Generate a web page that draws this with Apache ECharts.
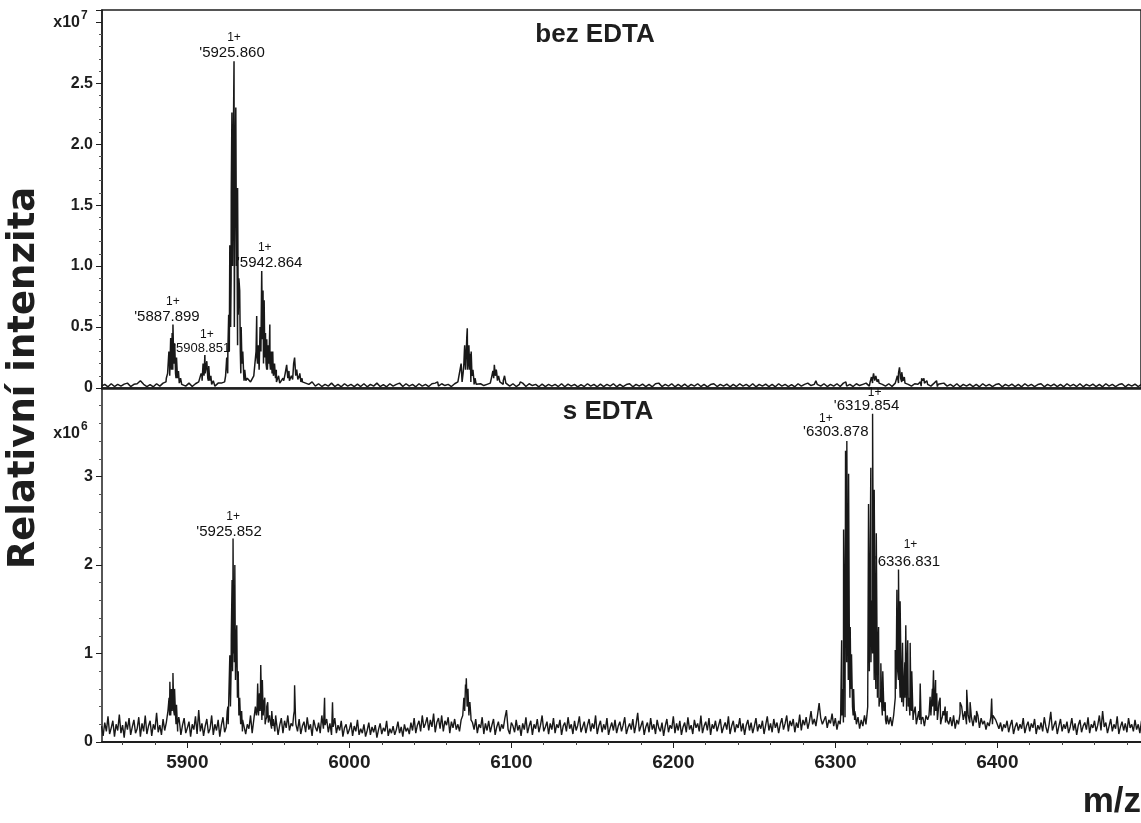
<!DOCTYPE html>
<html><head><meta charset="utf-8">
<script src="https://cdn.jsdelivr.net/npm/echarts@6/dist/echarts.min.js"></script>
<style>html,body{margin:0;padding:0;background:#fff}#c{width:1141px;height:823px}</style>
</head><body><div id="c"></div>
<script>
// ---------- axis ticks ----------
const xTicks = [5900, 6000, 6100, 6200, 6300, 6400];
const xMinorTicks = [5860,5880,5920,5940,5960,5980,6020,6040,6060,6080,6120,6140,6160,6180,6220,6240,6260,6280,6320,6340,6360,6380,6420,6440,6460,6480];
const xMin = 5847.3, xMax = 6488.7;

// ---------- top spectrum "bez EDTA" (intensity x10^7) ----------
const topBaseStart = 5847, topBaseStep = 2;   // baseline sampled every 2 Da
const topBase = [
0.015,0.03,0.01,0.035,0.012,0.03,0.015,0.032,0.04,0.012,0.03,0.035,0.06,0.03,0.012,0.028,0.01,0.035,0.015,0.04,
0.08,0.2,0.15,0.08,0.04,0.03,0.015,0.04,0.012,0.035,0.05,0.1,0.12,0.06,0.03,0.015,0.04,0.04,0.05,0.3,
0.9,0.5,0.35,0.12,0.06,0.08,0.05,0.1,0.25,0.4,0.2,0.15,0.2,0.12,0.05,0.04,0.08,0.12,0.06,0.1,
0.12,0.08,0.05,0.04,0.03,0.05,0.015,0.035,0.012,0.03,0.015,0.04,0.012,0.03,0.01,0.035,0.015,0.03,0.012,0.032,
0.012,0.035,0.01,0.03,0.015,0.04,0.012,0.028,0.01,0.035,0.015,0.03,0.04,0.012,0.035,0.015,0.03,0.01,0.035,0.015,
0.03,0.012,0.035,0.04,0.015,0.035,0.02,0.03,0.012,0.035,0.05,0.2,0.3,0.15,0.05,0.03,0.015,0.035,0.02,0.03,
0.04,0.1,0.12,0.06,0.03,0.04,0.015,0.035,0.012,0.03,0.04,0.012,0.035,0.02,0.03,0.01,0.032,0.012,0.03,0.015,
0.03,0.012,0.035,0.01,0.032,0.015,0.03,0.01,0.028,0.012,0.035,0.015,0.03,0.01,0.032,0.012,0.03,0.015,0.035,0.01,
0.03,0.012,0.028,0.035,0.01,0.03,0.015,0.032,0.012,0.03,0.01,0.035,0.04,0.012,0.03,0.015,0.035,0.01,0.03,0.012,
0.032,0.01,0.03,0.015,0.035,0.012,0.03,0.01,0.028,0.035,0.012,0.03,0.015,0.032,0.01,0.03,0.012,0.035,0.015,0.03,
0.012,0.035,0.01,0.03,0.015,0.032,0.012,0.03,0.01,0.035,0.015,0.03,0.012,0.028,0.01,0.035,0.015,0.03,0.04,0.02,
0.03,0.04,0.015,0.035,0.012,0.03,0.015,0.035,0.012,0.04,0.015,0.03,0.012,0.035,0.02,0.03,0.04,0.015,0.04,0.05,
0.04,0.03,0.015,0.035,0.012,0.04,0.04,0.05,0.04,0.03,0.015,0.035,0.03,0.015,0.04,0.03,0.015,0.04,0.012,0.035,
0.04,0.015,0.03,0.012,0.035,0.01,0.03,0.015,0.032,0.012,0.03,0.01,0.035,0.015,0.03,0.012,0.028,0.035,0.01,0.03,
0.015,0.032,0.012,0.03,0.01,0.035,0.015,0.03,0.012,0.028,0.035,0.01,0.03,0.015,0.032,0.012,0.03,0.01,0.035,0.015,
0.03,0.012,0.035,0.01,0.03,0.015,0.032,0.012,0.03,0.01,0.035,0.015,0.03,0.012,0.028,0.035,0.01,0.03,0.015,0.032,
0.012,0.03
];
const topPeaks = [
[5886.8,0.05],[5887.8,0.12],[5888.6,0.3],[5889.1,0.1],[5889.7,0.41],[5890.2,0.15],[5890.6,0.45],[5891.1,0.52],[5891.6,0.2],[5892.2,0.36],[5892.7,0.12],[5893.3,0.25],[5893.9,0.08],[5894.5,0.14],[5895.1,0.05],[5895.8,0.08],[5896.5,0.03],
[5907.7,0.05],[5908.5,0.12],[5909.1,0.06],[5909.7,0.2],[5910.3,0.1],[5910.8,0.27],[5911.4,0.12],[5912.0,0.22],[5912.6,0.08],[5913.2,0.18],[5913.8,0.06],[5914.5,0.1],[5915.2,0.04],[5916.0,0.06],
[5923.6,0.1],[5924.3,0.25],[5924.9,0.12],[5925.5,0.6],[5925.9,0.3],[5926.2,1.17],[5926.7,0.5],[5927.1,1.6],[5927.5,2.26],[5927.9,1.0],[5928.3,1.9],[5928.8,2.68],[5929.2,1.2],[5929.5,1.8],[5929.9,2.30],[5930.3,1.0],[5930.6,1.3],[5931.0,1.64],[5931.4,0.6],[5931.8,0.9],[5932.3,0.8],[5932.7,0.3],[5933.2,0.5],[5933.7,0.2],[5934.2,0.3],[5934.8,0.1],[5935.4,0.15],[5936.1,0.06],
[5941.9,0.1],[5942.4,0.3],[5942.8,0.59],[5943.3,0.2],[5943.8,0.35],[5944.3,0.15],[5944.9,0.5],[5945.4,0.3],[5945.9,0.96],[5946.3,0.4],[5946.7,0.8],[5947.1,0.35],[5947.4,0.72],[5947.8,0.25],[5948.2,0.45],[5948.6,0.2],[5949.0,0.4],[5949.4,0.15],[5949.9,0.35],[5950.4,0.2],[5950.9,0.52],[5951.3,0.15],[5951.8,0.3],[5952.3,0.12],[5952.7,0.3],[5953.2,0.1],[5953.8,0.2],[5954.4,0.08],[5954.9,0.15],[5955.6,0.06],[5956.3,0.1],[5957.1,0.04],
[5959.5,0.06],[5960.4,0.12],[5961.3,0.19],[5962.0,0.08],[5962.7,0.14],[5963.4,0.06],[5964.2,0.1],[5965.0,0.07],[5965.6,0.2],[5966.2,0.25],[5966.9,0.1],[5967.5,0.15],[5968.2,0.07],[5968.8,0.1],[5969.4,0.12],[5970.1,0.05],[5970.8,0.08],[5971.5,0.04],
[5981.5,0.05],[6054.5,0.05],[6055.3,0.03],
[6069.6,0.05],[6070.2,0.12],[6070.7,0.2],[6071.2,0.35],[6071.7,0.15],[6072.2,0.3],[6072.5,0.42],[6072.8,0.49],[6073.3,0.2],[6073.8,0.35],[6074.2,0.15],[6074.7,0.28],[6075.2,0.3],[6075.7,0.1],[6076.3,0.15],[6076.9,0.06],[6077.6,0.08],[6078.3,0.03],
[6087.2,0.05],[6088.0,0.1],[6088.6,0.14],[6089.1,0.08],[6089.5,0.19],[6090.1,0.1],[6090.7,0.15],[6091.4,0.06],[6092.1,0.1],[6092.9,0.05],[6095.0,0.06],[6095.8,0.1],[6096.6,0.04],
[6105.5,0.05],[6111.5,0.05],[6119.5,0.03],
[6287.2,0.04],[6288.0,0.06],[6288.8,0.03],
[6305.8,0.04],[6306.5,0.05],[6307.3,0.03],
[6321.5,0.05],[6322.3,0.09],[6323.0,0.07],[6323.6,0.12],[6324.3,0.06],[6325.0,0.1],[6325.8,0.05],[6326.6,0.07],[6327.5,0.04],
[6337.5,0.05],[6338.3,0.1],[6339.0,0.12],[6339.6,0.17],[6340.3,0.08],[6341.0,0.13],[6341.8,0.06],[6342.6,0.09],[6343.5,0.04],
[6352.5,0.05],[6353.3,0.08],[6354.0,0.06],[6354.7,0.08],[6355.5,0.04],[6356.5,0.06],[6357.5,0.03],
[6361.5,0.05],[6362.5,0.06],[6363.5,0.03]
];
const topLabelMz   = [5891.1, 5910.8, 5928.8, 5945.9];
const topLabelInt  = [0.52, 0.27, 2.68, 0.96];
const topLabelText = ["'5887.899", "'5908.851", "'5925.860", "'5942.864"];
const topLabelCharge = ["1+", "1+", "1+", "1+"];

// ---------- bottom spectrum "s EDTA" (intensity x10^6) ----------
const botBaseStart = 5847, botBaseStep = 1;   // baseline sampled every 1 Da
const botBase = [
0.18,0.07,0.22,0.12,0.29,0.09,0.16,0.24,0.06,0.2,0.13,0.31,0.1,0.19,0.05,0.23,0.14,0.27,0.08,0.17,
0.25,0.1,0.15,0.28,0.06,0.21,0.12,0.3,0.09,0.18,0.24,0.07,0.2,0.14,0.33,0.11,0.19,0.08,0.26,0.13,
0.22,0.35,0.3,0.4,0.45,0.3,0.2,0.12,0.25,0.08,0.19,0.27,0.1,0.16,0.23,0.06,0.2,0.14,0.29,0.09,
0.36,0.12,0.21,0.07,0.18,0.26,0.1,0.15,0.3,0.08,0.2,0.13,0.25,0.06,0.19,0.28,0.11,0.17,0.4,0.6,
0.8,1.0,0.9,0.7,0.5,0.3,0.22,0.12,0.27,0.09,0.2,0.15,0.3,0.1,0.25,0.4,0.35,0.3,0.4,0.25,
0.3,0.2,0.28,0.22,0.3,0.15,0.26,0.12,0.22,0.08,0.19,0.27,0.1,0.24,0.16,0.3,0.13,0.21,0.18,0.35,
0.2,0.12,0.26,0.09,0.18,0.23,0.11,0.28,0.14,0.2,0.07,0.25,0.17,0.12,0.22,0.1,0.3,0.15,0.19,0.26,
0.11,0.21,0.08,0.17,0.27,0.1,0.19,0.13,0.24,0.06,0.16,0.2,0.09,0.14,0.22,0.07,0.18,0.12,0.25,0.08,
0.15,0.1,0.2,0.06,0.13,0.22,0.08,0.17,0.11,0.19,0.05,0.14,0.21,0.09,0.16,0.12,0.24,0.07,0.15,0.1,
0.18,0.08,0.14,0.23,0.1,0.17,0.06,0.2,0.12,0.16,0.09,0.22,0.13,0.27,0.1,0.19,0.24,0.12,0.3,0.16,
0.21,0.28,0.13,0.25,0.17,0.32,0.11,0.22,0.27,0.15,0.3,0.12,0.24,0.19,0.28,0.1,0.23,0.16,0.26,0.14,
0.2,0.12,0.25,0.3,0.45,0.6,0.5,0.4,0.3,0.22,0.14,0.26,0.1,0.2,0.16,0.28,0.09,0.21,0.13,0.24,
0.11,0.19,0.26,0.08,0.17,0.23,0.12,0.2,0.15,0.27,0.36,0.14,0.09,0.22,0.18,0.11,0.25,0.13,0.19,0.07,
0.21,0.14,0.28,0.1,0.18,0.24,0.08,0.2,0.15,0.26,0.11,0.19,0.3,0.12,0.17,0.23,0.09,0.21,0.14,0.27,
0.1,0.2,0.16,0.25,0.08,0.18,0.22,0.12,0.28,0.15,0.2,0.09,0.24,0.13,0.19,0.29,0.11,0.17,0.23,0.1,
0.19,0.26,0.12,0.21,0.15,0.3,0.09,0.18,0.24,0.11,0.2,0.14,0.27,0.08,0.16,0.22,0.13,0.25,0.1,0.18,
0.23,0.12,0.19,0.28,0.09,0.16,0.21,0.14,0.26,0.1,0.2,0.33,0.12,0.18,0.24,0.08,0.17,0.22,0.11,0.27,
0.14,0.2,0.09,0.25,0.16,0.12,0.22,0.07,0.18,0.26,0.11,0.19,0.15,0.29,0.1,0.21,0.13,0.24,0.08,0.17,
0.22,0.11,0.28,0.14,0.19,0.09,0.25,0.16,0.21,0.12,0.3,0.1,0.18,0.23,0.13,0.27,0.08,0.2,0.15,0.24,
0.12,0.19,0.26,0.1,0.17,0.22,0.14,0.29,0.09,0.18,0.24,0.11,0.2,0.16,0.27,0.12,0.21,0.08,0.19,0.25,
0.13,0.22,0.1,0.18,0.27,0.12,0.2,0.15,0.24,0.09,0.19,0.29,0.13,0.21,0.11,0.26,0.16,0.22,0.1,0.2,
0.27,0.14,0.21,0.3,0.12,0.24,0.18,0.26,0.11,0.22,0.16,0.31,0.13,0.25,0.19,0.28,0.15,0.23,0.35,0.2,
0.26,0.18,0.3,0.44,0.27,0.2,0.22,0.29,0.16,0.25,0.21,0.32,0.18,0.27,0.14,0.24,0.2,0.3,0.22,0.28,
0.9,0.7,0.5,0.6,0.3,0.35,0.2,0.28,0.15,0.25,0.18,0.3,0.2,0.4,0.8,0.9,1.0,0.7,0.6,0.5,
0.4,0.45,0.3,0.35,0.25,0.3,0.2,0.28,0.18,0.3,0.5,0.6,0.7,0.5,0.45,0.4,0.5,0.35,0.4,0.3,
0.35,0.25,0.3,0.2,0.3,0.25,0.2,0.28,0.18,0.3,0.25,0.35,0.3,0.4,0.3,0.35,0.25,0.3,0.2,0.28,
0.3,0.22,0.35,0.2,0.28,0.18,0.3,0.15,0.25,0.2,0.32,0.4,0.25,0.35,0.2,0.3,0.22,0.28,0.18,0.3,
0.22,0.3,0.16,0.27,0.2,0.24,0.14,0.22,0.18,0.28,0.2,0.3,0.25,0.2,0.15,0.22,0.12,0.2,0.16,0.24,
0.11,0.19,0.25,0.09,0.17,0.22,0.13,0.2,0.15,0.27,0.1,0.18,0.23,0.12,0.21,0.16,0.26,0.09,0.19,0.14,
0.22,0.12,0.28,0.17,0.1,0.2,0.34,0.13,0.19,0.24,0.09,0.18,0.26,0.12,0.2,0.15,0.23,0.1,0.17,0.27,
0.13,0.21,0.08,0.19,0.25,0.11,0.18,0.22,0.14,0.28,0.1,0.2,0.16,0.24,0.12,0.19,0.3,0.13,0.35,0.17,
0.22,0.1,0.18,0.26,0.12,0.2,0.15,0.29,0.09,0.17,0.23,0.13,0.21,0.11,0.27,0.16,0.2,0.12,0.25,0.14,
0.2,0.1,0.24,0.15
];
const botPeaks = [
[5888.7,0.5],[5889.2,0.68],[5889.7,0.3],[5890.2,0.6],[5890.6,0.35],[5891.1,0.78],[5891.6,0.35],[5892.1,0.6],[5892.7,0.3],[5893.3,0.42],[5894.0,0.2],[5894.7,0.28],
[5924.6,0.35],[5925.2,0.2],[5925.7,0.6],[5926.2,0.98],[5926.6,0.4],[5927.1,1.2],[5927.6,1.83],[5927.9,0.8],[5928.2,2.3],[5928.6,1.0],[5928.9,1.5],[5929.3,2.0],[5929.7,0.7],[5930.1,1.1],[5930.5,1.32],[5930.9,0.5],[5931.4,0.8],[5931.8,0.3],[5932.3,0.5],[5932.9,0.2],[5933.5,0.35],[5934.1,0.25],
[5942.6,0.3],[5943.4,0.66],[5943.9,0.3],[5944.5,0.55],[5944.9,0.35],[5945.3,0.87],[5945.8,0.4],[5946.3,0.7],[5946.8,0.3],[5947.3,0.45],[5947.8,0.5],[5948.4,0.25],[5949.0,0.4],[5949.6,0.45],[5950.2,0.2],[5950.8,0.3],[5951.5,0.2],[5952.1,0.35],[5952.8,0.18],[5953.6,0.25],[5954.5,0.3],
[5965.6,0.3],[5966.2,0.64],[5966.8,0.25],[5984.7,0.5],[5989.6,0.45],
[6070.0,0.3],[6070.7,0.5],[6071.2,0.35],[6071.7,0.65],[6072.2,0.72],[6072.7,0.4],[6073.2,0.6],[6073.8,0.3],[6074.4,0.45],[6075.1,0.25],
[6303.3,0.3],[6303.9,1.15],[6304.5,0.6],[6305.1,2.4],[6305.7,1.2],[6306.3,3.29],[6306.7,1.9],[6307.1,3.40],[6307.6,1.6],[6308.2,3.03],[6308.7,1.0],[6309.2,1.3],[6309.6,0.6],[6310.0,0.99],[6310.6,0.4],[6311.3,0.6],[6311.9,0.25],[6312.5,0.3],[6313.2,0.2],
[6318.9,0.2],[6319.5,0.3],[6320.0,0.5],[6320.5,2.69],[6321.2,1.3],[6321.9,3.1],[6322.5,1.6],[6323.0,3.71],[6323.5,1.7],[6324.0,2.85],[6324.6,1.2],[6325.3,2.36],[6326.0,0.9],[6326.7,1.3],[6327.4,0.5],[6328.1,0.89],[6328.7,0.4],[6329.3,0.8],[6330.0,0.35],[6330.8,0.45],[6331.5,0.2],
[6336.4,0.3],[6337.0,1.04],[6337.5,0.6],[6338.0,1.72],[6338.5,0.8],[6339.0,1.95],[6339.5,0.8],[6340.0,1.59],[6340.7,0.6],[6341.5,1.12],[6342.2,0.5],[6342.9,0.9],[6343.5,1.32],[6344.1,0.6],[6344.7,1.15],[6345.4,0.5],[6346.2,1.12],[6346.7,0.4],[6347.2,0.8],[6348.2,0.3],[6349.3,0.4],[6350.5,0.25],[6351.5,0.35],[6352.4,0.66],[6353.0,0.25],
[6357.8,0.3],[6358.5,0.51],[6359.2,0.3],[6359.9,0.6],[6360.6,0.81],[6361.2,0.4],[6361.9,0.7],[6362.6,0.55],[6363.3,0.3],[6364.0,0.45],[6364.7,0.5],[6365.5,0.25],[6366.5,0.35],[6367.8,0.4],[6369.0,0.25],
[6377.0,0.45],[6381.1,0.59],[6382.0,0.3],[6383.2,0.45],[6384.3,0.3],[6387.2,0.35],[6396.5,0.49],[6397.3,0.3]
];
const botLabelMz   = [5928.2, 6307.1, 6323.0, 6339.0];
const botLabelInt  = [2.3, 3.40, 3.71, 1.95];
const botLabelText = ["'5925.852", "'6303.878", "'6319.854", "'6336.831"];
const botLabelCharge = ["1+", "1+", "1+", "1+"];

// ---------- text ----------
const topTitle = 'bez EDTA', botTitle = 's EDTA';
const yTitle = 'Relativní intenzita', xTitle = 'm/z';

// ---------- styling (positions / sizes) ----------
const SANS = "'Liberation Sans',Arial,sans-serif";
const INK = '#1e1e1e';
// label offsets [number dx, number dy, charge dx, charge dy, number font size]
const topLabelStyle = [[-6,-8,0,-23,15],[-3,-7,2,-20,13],[-2,-8,0,-24,15],[8,-8,3,-23,15]];
const botLabelStyle = [[-4,-7,0,-22,15],[-11,-9,-21,-22,15],[-6,-8,2,-21,15],[9,-8,12,-25,15]];

function buildSeries(start, step, base, peaks) {
  const pts = base.map((v, i) => [start + i * step, v]).concat(peaks);
  pts.sort((a, b) => a[0] - b[0]);
  return pts;
}
function buildMarks(mz, val, text, charge, style) {
  const out = [];
  mz.forEach((m, i) => {
    const s = style[i];
    out.push({coord:[m, val[i]], label:{show:true, position:'inside', offset:[s[0], s[1]], formatter:text[i],
      fontFamily:SANS, fontSize:s[4], color:'#111'}});
    out.push({coord:[m, val[i]], label:{show:true, position:'inside', offset:[s[2], s[3]], formatter:charge[i],
      fontFamily:SANS, fontSize:12, color:'#111'}});
  });
  return out;
}

const chart = echarts.init(document.getElementById('c'), null, {renderer:'canvas'});
const axisCommon = {type:'value', min:xMin, max:xMax, splitLine:{show:false}};
const option = {
  animation:false,
  backgroundColor:'#fff',
  grid:[
    {left:102, right:-2, top:10, height:378, show:true, borderColor:INK, borderWidth:1.5, backgroundColor:'transparent'},
    {left:102, right:-2, top:388, height:354}
  ],
  xAxis:[
    Object.assign({}, axisCommon, {gridIndex:0, position:'bottom',
      axisLine:{show:true, onZero:false, lineStyle:{color:INK, width:2.5}}, axisTick:{show:false}, axisLabel:{show:false}}),
    Object.assign({}, axisCommon, {gridIndex:1, position:'bottom',
      axisLine:{show:true, onZero:false, lineStyle:{color:INK, width:2}},
      axisTick:{show:true, length:6, customValues:xTicks, lineStyle:{color:INK, width:1}},
      axisLabel:{show:true, customValues:xTicks, margin:11, fontFamily:SANS, fontWeight:'bold', fontSize:19, color:INK,
        formatter:v => String(v)}}),
    Object.assign({}, axisCommon, {gridIndex:1, position:'bottom',
      axisLine:{show:false},
      axisTick:{show:true, length:3, customValues:xMinorTicks, lineStyle:{color:'#444', width:1}},
      axisLabel:{show:false}})
  ],
  yAxis:[
    {gridIndex:0, type:'value', min:0, max:3.1, interval:0.5,
     axisLine:{show:true, onZero:false, lineStyle:{color:INK, width:1.5}},
     axisTick:{show:true, length:6, lineStyle:{color:INK}},
     minorTick:{show:true, splitNumber:5, length:3, lineStyle:{color:'#555'}},
     splitLine:{show:false}, minorSplitLine:{show:false},
     axisLabel:{margin:9, fontFamily:SANS, fontWeight:'bold', fontSize:16, color:INK,
       formatter:v => v === 0 ? '0' : (v > 2.9 ? '' : v.toFixed(1))}},
    {gridIndex:1, type:'value', min:0, max:4, interval:1,
     axisLine:{show:true, onZero:false, lineStyle:{color:INK, width:1.5}},
     axisTick:{show:true, length:6, lineStyle:{color:INK}},
     minorTick:{show:true, splitNumber:5, length:3, lineStyle:{color:'#555'}},
     splitLine:{show:false}, minorSplitLine:{show:false},
     axisLabel:{margin:9, fontFamily:SANS, fontWeight:'bold', fontSize:16, color:INK,
       formatter:v => v >= 4 ? '' : String(v)}}
  ],
  series:[
    {type:'line', xAxisIndex:0, yAxisIndex:0, data:buildSeries(topBaseStart, topBaseStep, topBase, topPeaks),
     symbol:'none', showSymbol:false, sampling:null, clip:true, lineStyle:{color:'#181818', width:1.5}, silent:true,
     markPoint:{symbol:'circle', symbolSize:1, itemStyle:{color:'rgba(0,0,0,0)'}, silent:true, animation:false,
       data:buildMarks(topLabelMz, topLabelInt, topLabelText, topLabelCharge, topLabelStyle)}},
    {type:'line', xAxisIndex:1, yAxisIndex:1, data:buildSeries(botBaseStart, botBaseStep, botBase, botPeaks),
     symbol:'none', showSymbol:false, sampling:null, clip:true, lineStyle:{color:'#181818', width:1.4}, silent:true,
     markPoint:{symbol:'circle', symbolSize:1, itemStyle:{color:'rgba(0,0,0,0)'}, silent:true, animation:false,
       data:buildMarks(botLabelMz, botLabelInt, botLabelText, botLabelCharge, botLabelStyle)}}
  ],
  graphic:[
    {type:'text', x:595, y:35, style:{text:topTitle, fontFamily:SANS, fontWeight:'bold', fontSize:26, fill:INK, align:'center', verticalAlign:'middle', textAlign:'center', textVerticalAlign:'middle'}},
    {type:'text', x:608, y:412, style:{text:botTitle, fontFamily:SANS, fontWeight:'bold', fontSize:26, fill:INK, align:'center', verticalAlign:'middle', textAlign:'center', textVerticalAlign:'middle'}},
    {type:'text', x:24, y:378, rotation:Math.PI/2, style:{text:yTitle, fontFamily:"'DejaVu Sans',sans-serif", fontWeight:'bold', fontSize:37, fill:INK, align:'center', verticalAlign:'middle', textAlign:'center', textVerticalAlign:'middle'}},
    {type:'text', x:1141, y:802, style:{text:xTitle, fontFamily:SANS, fontWeight:'bold', fontSize:35, fill:INK, align:'right', verticalAlign:'middle', textAlign:'right', textVerticalAlign:'middle'}},
    {type:'text', x:80, y:23, style:{text:'x10', fontFamily:SANS, fontWeight:'bold', fontSize:16, fill:INK, align:'right', verticalAlign:'middle', textAlign:'right', textVerticalAlign:'middle'}},
    {type:'text', x:81, y:16, style:{text:'7', fontFamily:SANS, fontWeight:'bold', fontSize:12, fill:INK, align:'left', verticalAlign:'middle', textAlign:'left', textVerticalAlign:'middle'}},
    {type:'text', x:80, y:434, style:{text:'x10', fontFamily:SANS, fontWeight:'bold', fontSize:16, fill:INK, align:'right', verticalAlign:'middle', textAlign:'right', textVerticalAlign:'middle'}},
    {type:'text', x:81, y:427, style:{text:'6', fontFamily:SANS, fontWeight:'bold', fontSize:12, fill:INK, align:'left', verticalAlign:'middle', textAlign:'left', textVerticalAlign:'middle'}}
  ]
};
chart.setOption(option);
</script>
</body></html>
